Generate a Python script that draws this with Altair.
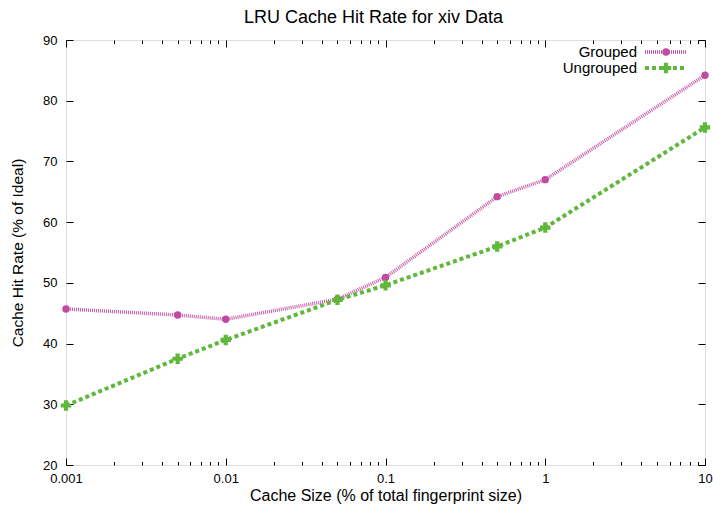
import altair as alt
import pandas as pd

# Cache size as % of total fingerprint size (log axis)
sizes = [0.001, 0.005, 0.01, 0.05, 0.1, 0.5, 1, 10]
# Hit rate as % of ideal
grouped = [45.7, 44.7, 44.0, 47.3, 50.9, 64.2, 67.0, 84.2]
ungrouped = [29.8, 37.5, 40.6, 47.2, 49.6, 56.0, 59.1, 75.6]
series = ["Grouped", "Ungrouped"]
colors = ["#c24aa2", "#5fb83c"]

x_major = [0.001, 0.01, 0.1, 1, 10]
x_minor = [0.002, 0.003, 0.004, 0.005, 0.006, 0.007, 0.008, 0.009,
           0.02, 0.03, 0.04, 0.05, 0.06, 0.07, 0.08, 0.09,
           0.2, 0.3, 0.4, 0.5, 0.6, 0.7, 0.8, 0.9,
           2, 3, 4, 5, 6, 7, 8, 9]
y_ticks = [20, 30, 40, 50, 60, 70, 80, 90]

FONT = "Liberation Sans"
W, H = 639, 425
MAJ, MIN = 7, 3.5

g_df = pd.DataFrame({"size": sizes, "rate": grouped})
u_df = pd.DataFrame({"size": sizes, "rate": ungrouped})

xs = alt.Scale(type="log", domain=[0.001, 10], nice=False)
ys = alt.Scale(domain=[20, 90], nice=False, zero=False)


def xaxis(orient, values, size, labels=False, title=None):
    kw = dict(orient=orient, values=values, tickSize=size, offset=-size,
              domain=False, grid=False, labels=labels, tickColor="#000",
              tickWidth=1)
    if labels:
        kw.update(format="~g", labelFont=FONT, labelFontSize=13,
                  labelColor="#000", labelPadding=7, labelFlush=False,
                  labelOverlap=False)
    if title:
        kw.update(title=title, titleFont=FONT, titleFontSize=16,
                  titleFontWeight="normal", titleColor="#000", titlePadding=2)
    else:
        kw.update(title=None)
    return alt.Axis(**kw)


def yaxis(orient, labels=False, title=None):
    kw = dict(orient=orient, values=y_ticks, tickSize=MAJ, offset=-MAJ,
              domain=False, grid=False, labels=labels, tickColor="#000",
              tickWidth=1)
    if labels:
        kw.update(labelFont=FONT, labelFontSize=13, labelColor="#000",
                  labelPadding=9, labelFlush=False, labelOverlap=False)
    if title:
        kw.update(title=title, titleFont=FONT, titleFontSize=15.5,
                  titleFontWeight="normal", titleColor="#000",
                  titlePadding=17)
    else:
        kw.update(title=None)
    return alt.Axis(**kw)


g_line = alt.Chart(g_df).mark_line(
    color=colors[0], strokeWidth=3.5, strokeDash=[1, 1], opacity=0.9
).encode(
    x=alt.X("size:Q", scale=xs,
            axis=xaxis("bottom", x_major, MAJ, labels=True,
                       title="Cache Size (% of total fingerprint size)")),
    y=alt.Y("rate:Q", scale=ys,
            axis=yaxis("left", labels=True, title="Cache Hit Rate (% of Ideal)")),
)

u_line = alt.Chart(u_df).mark_line(
    color=colors[1], strokeWidth=4, strokeDash=[4, 3]
).encode(
    x=alt.X("size:Q", scale=xs, axis=xaxis("bottom", x_minor, MIN)),
    y=alt.Y("rate:Q", scale=ys, axis=yaxis("right")),
)

g_pts = alt.Chart(g_df).mark_point(
    shape="circle", filled=True, color=colors[0], size=55, opacity=1
).encode(
    x=alt.X("size:Q", scale=xs, axis=xaxis("top", x_major, MAJ)),
    y=alt.Y("rate:Q", scale=ys, axis=None),
)

u_pts = alt.Chart(u_df).mark_point(
    shape="cross", filled=True, color=colors[1], size=110, opacity=1
).encode(
    x=alt.X("size:Q", scale=xs, axis=xaxis("top", x_minor, MIN)),
    y=alt.Y("rate:Q", scale=ys, axis=None),
)

# Key in the upper right corner: label, then line sample with a marker
legend_layers = []
styles = [
    dict(width=3.5, dash=[1, 1], shape="circle", size=55),
    dict(width=4, dash=[4, 3], shape="cross", size=110),
]
for i, (name, col, st) in enumerate(zip(series, colors, styles)):
    ldf = pd.DataFrame({"label": [name]})
    ypos = 12 + 16 * i
    legend_layers.append(
        alt.Chart(ldf).mark_text(
            align="right", baseline="middle", font=FONT, fontSize=15,
            color="#000"
        ).encode(text="label:N", x=alt.value(571), y=alt.value(ypos))
    )
    legend_layers.append(
        alt.Chart(ldf).mark_rule(
            color=col, strokeWidth=st["width"], strokeDash=st["dash"]
        ).encode(x=alt.value(579), x2=alt.value(621), y=alt.value(ypos))
    )
    legend_layers.append(
        alt.Chart(ldf).mark_point(
            shape=st["shape"], filled=True, color=col, size=st["size"],
            opacity=1
        ).encode(x=alt.value(600), y=alt.value(ypos))
    )

chart = alt.layer(
    g_line, u_line, g_pts, u_pts, *legend_layers
).resolve_axis(
    x="independent", y="independent"
).properties(
    width=W, height=H,
    title=alt.TitleParams("LRU Cache Hit Rate for xiv Data", font=FONT,
                          fontSize=18, fontWeight="normal", color="#000",
                          anchor="middle", offset=7, dx=-12),
    autosize=alt.AutoSizeParams(type="none"),
    padding={"left": 66, "top": 40, "right": 8, "bottom": 47},
).configure_view(
    stroke="#000", strokeWidth=1
).configure(background="white")

chart.save("out.html", embed_options={"renderer": "svg", "actions": False})
